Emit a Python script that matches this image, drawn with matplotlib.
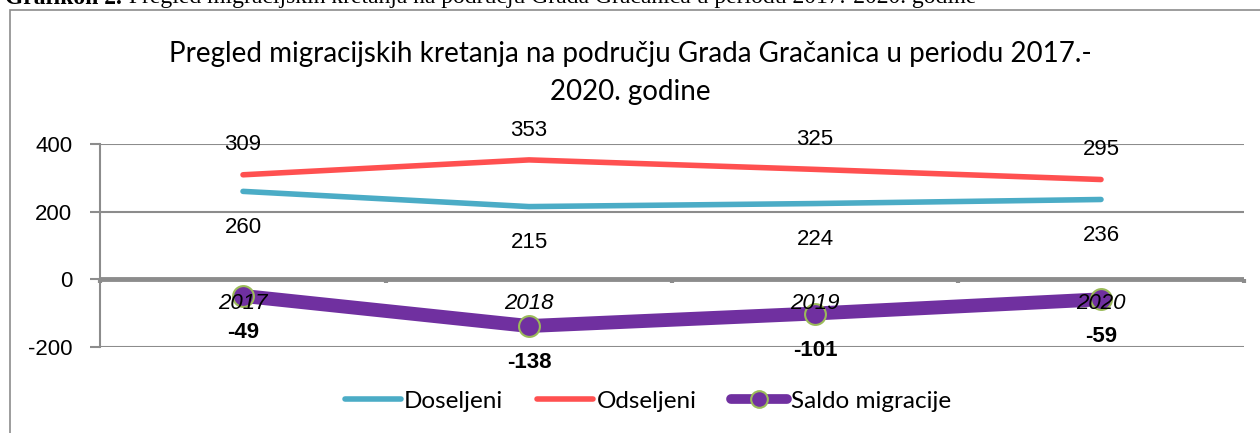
import matplotlib
matplotlib.use("Agg")
import matplotlib.pyplot as plt
from matplotlib.patches import Rectangle
from matplotlib.lines import Line2D

years = ["2017", "2018", "2019", "2020"]
doseljeni = [260, 215, 224, 236]
odseljeni = [309, 353, 325, 295]
saldo = [-49, -138, -101, -59]

title = "Pregled migracijskih kretanja na području Grada Gračanica u periodu 2017.-\n2020. godine"
caption_bold = "Grafikon 2."
caption_rest = " Pregled migracijskih kretanja na području Grada Gračanica u periodu 2017.-2020. godine"

W, H = 1260, 433
fig = plt.figure(figsize=(W / 100, H / 100), dpi=100)

# chart border
fig.patches.append(Rectangle((10 / W, -0.1), 1.2, (H - 10) / H + 0.1, transform=fig.transFigure,
                             fill=False, edgecolor="#8c8c8c", lw=1.2))

# cut-off caption
fig.text(0.004, 1 + 2 / H, caption_bold, fontsize=17, fontweight="bold", family="Liberation Serif",
         va="center", ha="left")
fig.text(0.098, 1 + 2 / H, caption_rest, fontsize=17, family="Liberation Serif", va="center", ha="left")

ax = fig.add_axes([100 / W, 1 - 347 / H, 1144 / W, 203 / H])
x = list(range(len(years)))

ax.set_xlim(-0.5, len(years) - 0.5)
ax.set_ylim(-200, 400)
ax.set_yticks([-200, 0, 200, 400])
ax.set_yticklabels(["-200", "0", "200", "400"], fontsize=16, family="Liberation Sans")
for y in [-200, 200, 400]:
    ax.axhline(y, color="#8c8c8c", lw=1.5, zorder=1)
ax.axhline(0, color="#8c8c8c", lw=3.5, zorder=1)
for s in ["top", "right", "bottom"]:
    ax.spines[s].set_visible(False)
ax.spines["left"].set_color("#8c8c8c")
ax.spines["left"].set_linewidth(1.5)
ax.tick_params(axis="y", length=7, width=1.5, color="#8c8c8c", pad=13)

ax.set_xticks([])
for b in [-0.5, 0.5, 1.5, 2.5, 3.5]:
    ax.plot([b, b], [0, -12], color="#8c8c8c", lw=3, zorder=1, solid_capstyle="butt", clip_on=False)

ax.plot(x, doseljeni, color="#4BACC6", lw=4, solid_capstyle="round", zorder=3)
ax.plot(x, odseljeni, color="#FF5050", lw=4, solid_capstyle="round", zorder=3)
ax.plot(x, saldo, color="#7030A0", lw=10, marker="o", markersize=15, markerfacecolor="#7030A0",
        markeredgecolor="#9BBB59", markeredgewidth=1.5, zorder=4)

for i, yr in enumerate(years):
    ax.annotate(yr, (i, 0), xytext=(0, -17.5), textcoords="offset points",
                ha="center", va="center", fontsize=16, style="italic",
                family="Liberation Sans", zorder=5)
    ax.annotate(str(odseljeni[i]), (i, odseljeni[i]), xytext=(0, 21.5), textcoords="offset points",
                ha="center", va="center", fontsize=16, family="Liberation Sans", zorder=5)
    ax.annotate(str(doseljeni[i]), (i, doseljeni[i]), xytext=(0, -26), textcoords="offset points",
                ha="center", va="center", fontsize=16, family="Liberation Sans", zorder=5)
    ax.annotate(str(saldo[i]), (i, saldo[i]), xytext=(0, -26.5), textcoords="offset points",
                ha="center", va="center", fontsize=16, fontweight="bold", family="Liberation Sans",
                zorder=5)

fig.text(0.5, 1 - 73 / H, title, ha="center", va="center", fontsize=20, family="Lato",
         linespacing=1.6)

handles = [
    Line2D([], [], color="#4BACC6", lw=4, solid_capstyle="round"),
    Line2D([], [], color="#FF5050", lw=4, solid_capstyle="round"),
    Line2D([], [], color="#7030A0", lw=7, marker="o", markersize=12, markerfacecolor="#7030A0",
           markeredgecolor="#9BBB59", markeredgewidth=1.5, solid_capstyle="round"),
]
fig.legend(handles, ["Doseljeni", "Odseljeni", "Saldo migracije"], loc="center",
           bbox_to_anchor=(0.514, 1 - 401 / H), ncol=3, frameon=False,
           prop={"family": "Lato", "size": 17.5}, handlelength=2.3, handletextpad=0.15,
           columnspacing=1.4)

fig.savefig("out.png", dpi=100)
